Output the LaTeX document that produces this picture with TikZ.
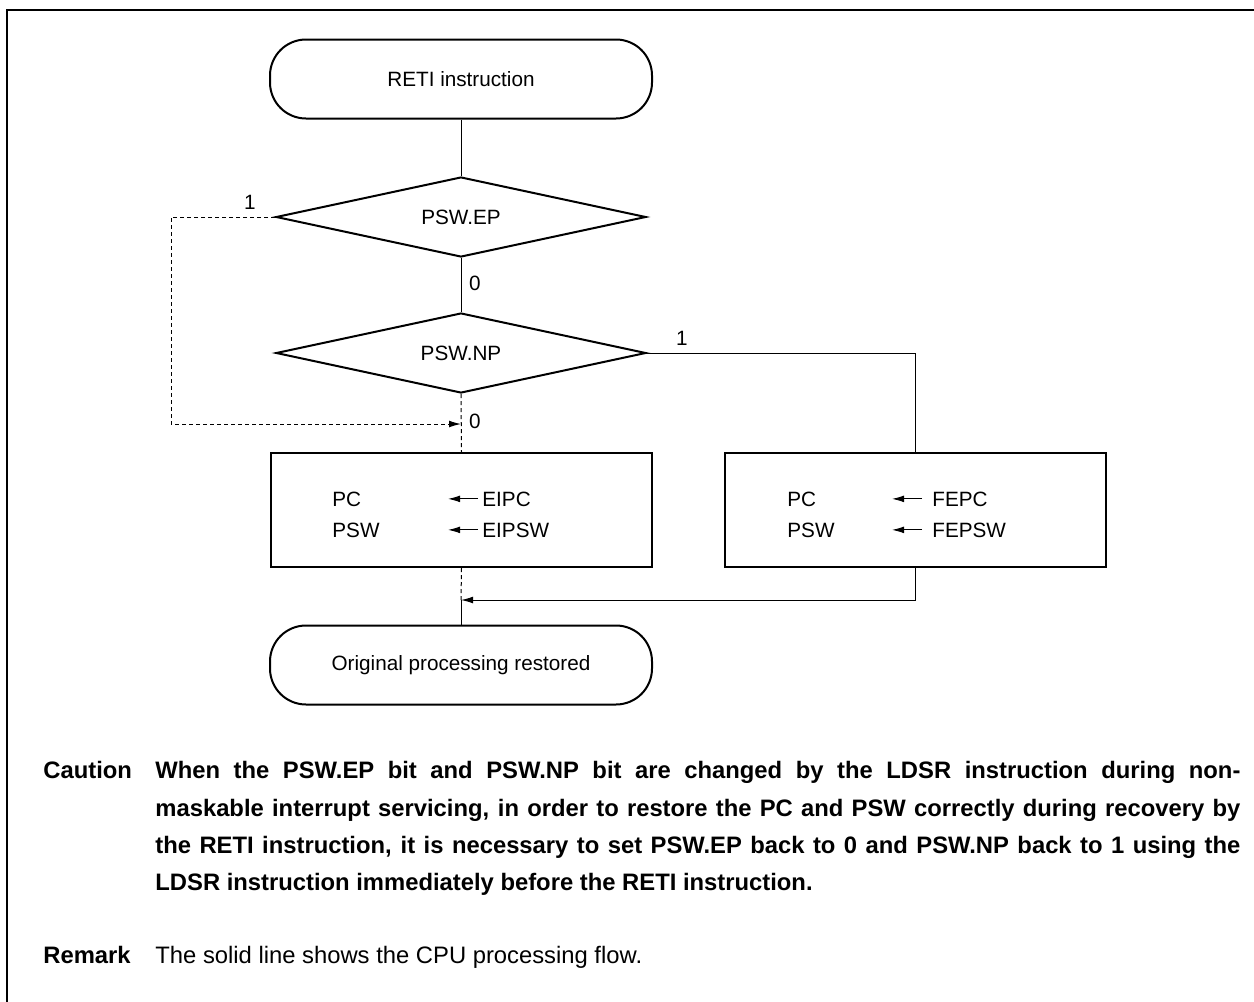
\documentclass[tikz,border=0pt]{standalone}
\usepackage{fontspec}
\setmainfont{Liberation Sans}
\usetikzlibrary{arrows.meta,positioning,calc,shapes.geometric}
\tikzset{
  flow/.style={line width=0.5pt, draw=black},
  flowarrow/.style={flow, -{Latex[length=6pt,width=3.4pt]}},
  bypass/.style={flow, dash pattern=on 2pt off 1.5pt},
  bypassarrow/.style={bypass, -{Latex[length=6pt,width=3.4pt]}},
  figtext/.style={font=\fontsize{10.35pt}{12pt}\selectfont},
  terminal/.style={figtext, draw, line width=1pt, rounded corners=18pt,
                   minimum width=191pt, minimum height=39.5pt, inner sep=0pt},
  decision/.style={figtext, draw, line width=1pt, diamond, aspect=4.6,
                   minimum width=185pt, minimum height=40pt, inner sep=0pt},
  process/.style={draw, line width=1pt, minimum width=190.5pt, minimum height=57pt},
  regtext/.style={figtext, inner sep=0pt, anchor=base west},
  flaglabel/.style={figtext, inner sep=0pt},
  notetext/.style={font=\fontsize{11.9pt}{18.7pt}\selectfont, inner sep=0pt},
}

\begin{document}
\begin{tikzpicture}[x=0.5pt,y=-0.5pt]
    \useasboundingbox (0,0) rectangle (1254,1002);
    % figure frame (open to the right and bottom)
    \draw[line width=1.3pt] (1254,10) -- (7,10) -- (7,1002);

    \node[terminal] (start) at (461,79) {RETI instruction};
    \node[decision] (ep) at (461,217) {PSW.EP};
    \node[decision] (np) at (461,353) {PSW.NP};
    \node[process] (eirestore) at (461.5,510) {};
    \node[process] (ferestore) at (915.5,510) {};
    \node[terminal] (finish) at (461,665) {Original processing restored};
    \coordinate (merge) at (461,424);
    \coordinate (join) at (461,600);

    % register transfers
    \node[regtext] (pcA) at (332,506) {PC};
    \node[regtext] (pswA) at (332,537) {PSW};
    \node[regtext] (eipc) at (482,506) {EIPC};
    \node[regtext] (eipsw) at (482,537) {EIPSW};
    \draw[flowarrow] ([xshift=-2pt]eipc.west) -- ++(-30,0);
    \draw[flowarrow] ([xshift=-2pt]eipsw.west) -- ++(-30,0);
    \node[regtext] (pcB) at (787,506) {PC};
    \node[regtext] (pswB) at (787,537) {PSW};
    \node[regtext] (fepc) at (932,506) {FEPC};
    \node[regtext] (fepsw) at (932,537) {FEPSW};
    \draw[flowarrow] ([xshift=-5pt]fepc.west) -- ++(-30,0);
    \draw[flowarrow] ([xshift=-5pt]fepsw.west) -- ++(-30,0);

    \draw[flow] (start) -- (ep);
    \draw[flow] (ep) -- (np);
    \node[flaglabel] (epzero) at (475,283) {0};
    \draw[bypassarrow] (ep.west) -- ++(-104,0) |- (merge);
    \node[flaglabel] (epone) at (250,202) {1};
    \draw[bypass] (np.south) -- (eirestore.north);
    \node[flaglabel] (npzero) at (475,421) {0};
    \draw[flow] (np.east) -| (ferestore.north);
    \node[flaglabel] (npone) at (682,338) {1};
    \draw[bypass] (eirestore.south) -- (join);
    \draw[flow] (join) -- (finish.north);
    \draw[flowarrow] (ferestore.south) |- (join);

    % notes below the figure
    \node[notetext,anchor=base west] (cautionhead) at (43,778) {\bfseries Caution};
    \node[notetext,anchor=north west,text width=542.5pt,align=justify] (caution) at (155,761)
      {\bfseries When the PSW.EP bit and PSW.NP bit are changed by the LDSR instruction during non-\linebreak
       maskable interrupt servicing, in order to restore the PC and PSW correctly during recovery by\linebreak
       the RETI instruction, it is necessary to set PSW.EP back to 0 and PSW.NP back to 1 using the\linebreak
       LDSR instruction immediately before the RETI instruction.};
    \node[notetext,anchor=base west] (remarkhead) at (43,963) {\bfseries Remark};
    \node[notetext,anchor=base west] (remark) at (155,963) {The solid line shows the CPU processing flow.};
  \end{tikzpicture}
\end{document}
